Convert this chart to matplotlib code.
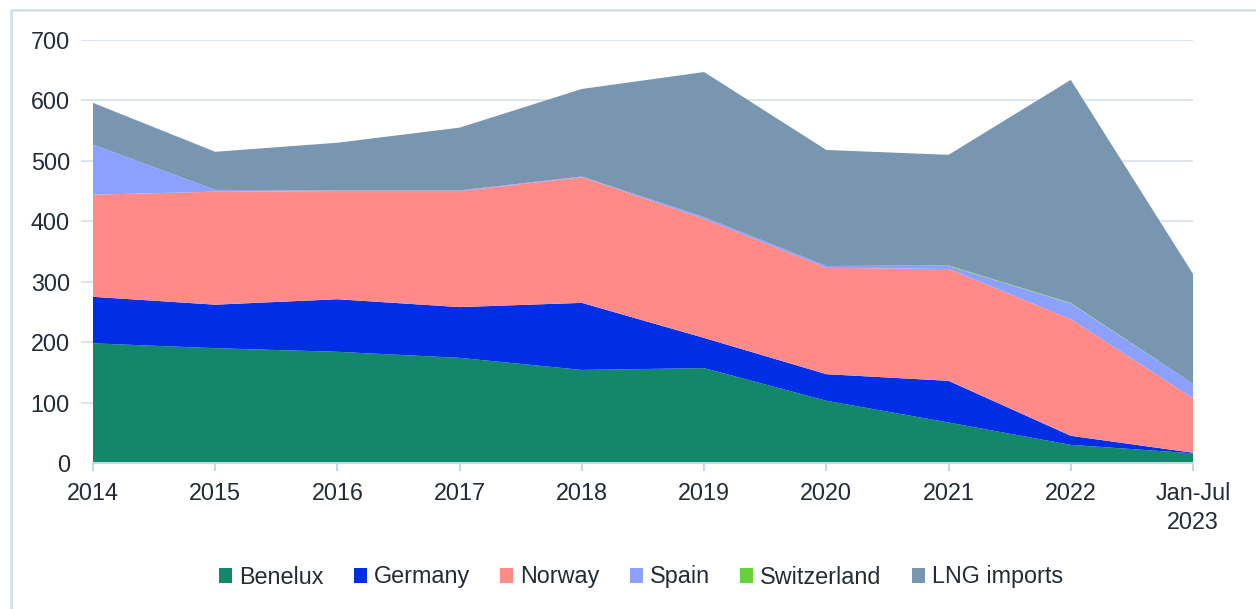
import matplotlib
matplotlib.use("Agg")
import matplotlib.pyplot as plt
from matplotlib.patches import Patch, Rectangle
import numpy as np

plt.rcParams['font.family'] = ['Liberation Sans', 'DejaVu Sans']

categories = ["2014", "2015", "2016", "2017", "2018", "2019", "2020", "2021", "2022", "Jan-Jul\n2023"]
benelux = [198, 190, 184, 174, 154, 157, 103, 67, 30, 16]
germany = [77, 72, 87, 84, 111, 50, 44, 69, 15, 1]
norway = [169, 187, 179, 192, 208, 197, 176, 185, 193, 90]
spain = [83, 3, 1, 1, 1, 3, 3, 5, 26, 24]
switzerland = [0, 0, 0, 0, 0, 0, 0, 1, 1, 0]
lng = [69, 63, 79, 104, 145, 240, 192, 183, 369, 182]

series_names = ["Benelux", "Germany", "Norway", "Spain", "Switzerland", "LNG imports"]
series = [benelux, germany, norway, spain, switzerland, lng]
colors = ["#12876A", "#002EE5", "#FF8A88", "#8CA0FF", "#66D13A", "#7896B0"]
yticks = [0, 100, 200, 300, 400, 500, 600, 700]

W, H = 1256, 609
fig = plt.figure(figsize=(W / 100, H / 100), dpi=100)
ax = fig.add_axes([81 / W, 1 - 463 / H, (1193 - 81) / W, (463 - 40) / H])

x = np.arange(len(categories))
ax.stackplot(x, *series, colors=colors, linewidth=0)

ax.set_xlim(-12 / 122.2, len(categories) - 1)
ax.set_ylim(0, 700)
ax.set_yticks(yticks)
ax.set_yticklabels([str(v) for v in yticks])
ax.set_xticks(x)
ax.set_xticklabels(categories, linespacing=1.3)

grid_c = "#D9E2EC"
for v in yticks[1:]:
    ax.axhline(v, color=grid_c, lw=1.3, zorder=0)
ax.set_axisbelow(True)

for s in ["top", "right", "left"]:
    ax.spines[s].set_visible(False)
ax.spines["bottom"].set_color("#C9D5E0")
ax.spines["bottom"].set_linewidth(1.5)
ax.spines["bottom"].set_bounds(0, len(categories) - 1)

ax.tick_params(axis="y", length=0, pad=8, labelsize=16.8, labelcolor="#222B36")
ax.tick_params(axis="x", length=6, width=1.5, color="#C9D5E0", pad=8,
               labelsize=16.8, labelcolor="#222B36")

handles = [Patch(facecolor=c, edgecolor="none") for c in colors]
fig.legend(handles, series_names, loc="center", bbox_to_anchor=(641 / W, 1 - 577 / H),
           ncol=6, frameon=False, fontsize=16.8, handlelength=0.55, handleheight=0.6,
           handletextpad=0.3, columnspacing=1.3, labelcolor="#222B36")

fig.patches.append(Rectangle((11 / W, -0.1), 1.2, 1 - 10 / H + 0.1, transform=fig.transFigure,
                             fill=False, edgecolor="#D6E0EA", linewidth=2, clip_on=False))

fig.savefig("out.png", dpi=100)
